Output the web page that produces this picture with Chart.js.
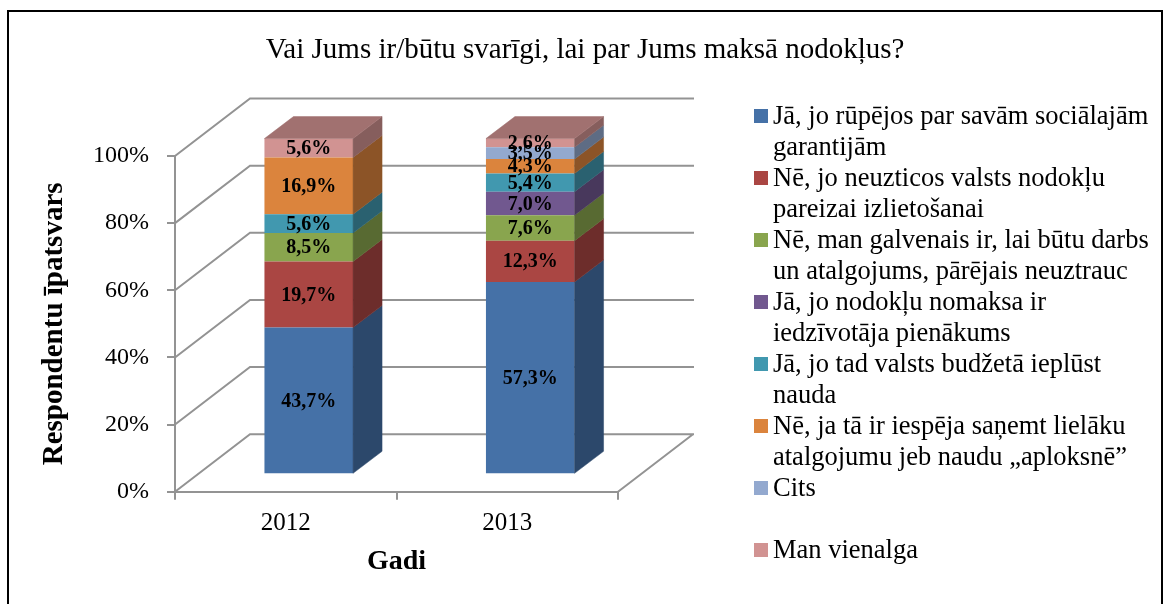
<!DOCTYPE html>
<html lang="lv">
<head>
<meta charset="utf-8">
<title>Vai Jums ir/būtu svarīgi, lai par Jums maksā nodokļus?</title>
<script src="https://cdn.jsdelivr.net/npm/chart.js@4.4.1/dist/chart.umd.min.js"></script>
<style>
    html, body { margin: 0; padding: 0; background: #fff; }
    #wrap { position: relative; width: 1164px; height: 604px; overflow: hidden; font-family: 'Liberation Serif', 'Times New Roman', serif; color: #000; }
    #chart { position: absolute; left: 0; top: 0; }
    #ramis { position: absolute; left: 7px; top: 10px; width: 1156px; height: 640px; border: 2px solid #000; box-sizing: border-box; }
    #virsraksts { position: absolute; left: 8px; width: 1154px; top: 30px; text-align: center; font-size: 29px; line-height: 36px; }
    #legenda { position: absolute; left: 754px; top: 100px; font-size: 26.5px; line-height: 31px; }
    .vieniba { position: relative; padding-left: 19px; height: 62px; white-space: nowrap; }
    .vieniba i { position: absolute; left: 0; top: 9px; width: 14px; height: 14px; }
</style>
</head>
<body>
<div id="wrap">
    <canvas id="chart" width="1164" height="604"></canvas>
    <div id="ramis"></div>
    <div id="virsraksts">Vai Jums ir/būtu svarīgi, lai par Jums maksā nodokļus?</div>
    <div id="legenda"></div>
</div>
<script>
// dati (%)
const gadi = ['2012', '2013'];
const rupejos = [43.7, 57.3];
const neuzticos = [19.7, 12.3];
const darbs = [8.5, 7.6];
const pienakums = [0, 7.0];
const budzets = [5.6, 5.4];
const aploksne = [16.9, 4.3];
const cits = [0, 3.5];
const vienalga = [5.6, 2.6];
const asuVertibas = [0, 20, 40, 60, 80, 100];

const serijas = [
    { teksts: ['Jā, jo rūpējos par savām sociālajām', 'garantijām'], dati: rupejos, krasa: '#4571A7' },
    { teksts: ['Nē, jo neuzticos valsts nodokļu', 'pareizai izlietošanai'], dati: neuzticos, krasa: '#AA4643' },
    { teksts: ['Nē, man galvenais ir, lai būtu darbs', 'un atalgojums, pārējais neuztrauc'], dati: darbs, krasa: '#89A54E' },
    { teksts: ['Jā, jo nodokļu nomaksa ir', 'iedzīvotāja pienākums'], dati: pienakums, krasa: '#71588F' },
    { teksts: ['Jā, jo tad valsts budžetā ieplūst', 'nauda'], dati: budzets, krasa: '#4198AF' },
    { teksts: ['Nē, ja tā ir iespēja saņemt lielāku', 'atalgojumu jeb naudu „aploksnē”'], dati: aploksne, krasa: '#DB843D' },
    { teksts: ['Cits', ''], dati: cits, krasa: '#93A9CF' },
    { teksts: ['Man vienalga', ''], dati: vienalga, krasa: '#D19392' }
];

const SERIF = "'Liberation Serif', 'Times New Roman', serif";
const SIENA = { x: 75, y: -57.5 };   // aizmugures sienas nobīde
const PRIEKSA = { x: 23, y: -17.4 }; // stabu priekšpuses nobīde
const STABS = { x: 29, y: -22 };     // stabu dziļums

function tonis(hex, k) {
    const n = parseInt(hex.slice(1), 16);
    const r = Math.round(((n >> 16) & 255) * k);
    const g = Math.round(((n >> 8) & 255) * k);
    const b = Math.round((n & 255) * k);
    return `rgb(${r}, ${g}, ${b})`;
}

function daudzsturis(ctx, punkti, krasa) {
    ctx.fillStyle = krasa;
    ctx.strokeStyle = krasa;
    ctx.lineWidth = 0.5;
    ctx.beginPath();
    punkti.forEach((p, i) => i ? ctx.lineTo(p[0], p[1]) : ctx.moveTo(p[0], p[1]));
    ctx.closePath();
    ctx.fill();
    ctx.stroke();
}

const telpa = {
    id: 'telpa',
    beforeDatasetsDraw(chart) {
        const { ctx, chartArea: a, scales: { y } } = chart;
        ctx.save();
        ctx.strokeStyle = '#939393';
        ctx.lineWidth = 2;
        ctx.beginPath();
        asuVertibas.forEach(v => {
            const py = y.getPixelForValue(v);
            ctx.moveTo(a.left, py);
            ctx.lineTo(a.left + SIENA.x, py + SIENA.y);
            ctx.lineTo(a.right + SIENA.x + 1, py + SIENA.y);
        });
        ctx.moveTo(a.right, a.bottom);
        ctx.lineTo(a.right + SIENA.x, a.bottom + SIENA.y);
        ctx.stroke();
        ctx.restore();
        // stabu priekšpuses zīmē bibliotēka, tikai nobīdītas
        ctx.save();
        ctx.translate(PRIEKSA.x, PRIEKSA.y);
    },
    afterDatasetsDraw(chart) {
        const ctx = chart.ctx;
        ctx.restore();
        const kopas = chart.data.datasets;

        chart.data.labels.forEach((_, j) => {
            let augsa = -1;
            kopas.forEach((k, i) => { if (k.data[j] > 0) augsa = i; });

            kopas.forEach((k, i) => {
                if (!(k.data[j] > 0)) return;
                const bar = chart.getDatasetMeta(i).data[j];
                const l = bar.x - bar.width / 2 + PRIEKSA.x;
                const r = bar.x + bar.width / 2 + PRIEKSA.x;
                const t = bar.y + PRIEKSA.y;
                const b = bar.base + PRIEKSA.y;
                daudzsturis(ctx, [[r, t], [r + STABS.x, t + STABS.y], [r + STABS.x, b + STABS.y], [r, b]], tonis(serijas[i].krasa, 0.64));
                if (i === augsa) {
                    daudzsturis(ctx, [[l, t], [l + STABS.x, t + STABS.y], [r + STABS.x, t + STABS.y], [r, t]], tonis(serijas[i].krasa, 0.77));
                }
            });

            ctx.save();
            ctx.fillStyle = '#000';
            ctx.font = `bold 20px ${SERIF}`;
            ctx.textAlign = 'center';
            ctx.textBaseline = 'middle';
            kopas.forEach((k, i) => {
                const v = k.data[j];
                if (!(v > 0)) return;
                const bar = chart.getDatasetMeta(i).data[j];
                const yc = (bar.y + bar.base) / 2 + PRIEKSA.y;
                ctx.fillText(v.toFixed(1).replace('.', ',') + '%', bar.x + PRIEKSA.x, yc + 1);
            });
            ctx.restore();
        });
    }
};

// leģenda
document.getElementById('legenda').innerHTML = serijas.map(s => `
    <div class="vieniba"><i style="background:${s.krasa}"></i>${s.teksts[0]}<br>${s.teksts[1] || '&nbsp;'}</div>
`).join('');

new Chart(document.getElementById('chart'), {
    type: 'bar',
    data: {
        labels: gadi,
        datasets: serijas.map(s => ({
            label: s.teksts.join(' ').trim(),
            data: s.dati,
            backgroundColor: s.krasa,
            borderWidth: 0,
            categoryPercentage: 1,
            barPercentage: 0.4,
            clip: false
        }))
    },
    options: {
        responsive: false,
        animation: false,
        layout: { padding: { left: 0, top: 156, right: 546, bottom: 0 } },
        plugins: {
            legend: { display: false },
            title: { display: false },
            tooltip: { enabled: false }
        },
        scales: {
            x: {
                stacked: true,
                afterFit: s => { s.height = 112.3; },
                grid: { drawOnChartArea: false, color: '#939393', lineWidth: 2, tickLength: 8 },
                border: { color: '#939393', width: 2 },
                ticks: { color: '#000', padding: 9, font: { family: SERIF, size: 25 } },
                title: { display: true, text: 'Gadi', color: '#000', padding: { top: 0, bottom: 25 }, font: { family: SERIF, size: 28, weight: 'bold' } }
            },
            y: {
                stacked: true,
                min: 0,
                max: 100,
                afterFit: s => { s.width = 175; },
                afterBuildTicks: s => { s.ticks = asuVertibas.map(v => ({ value: v })); },
                grid: { drawOnChartArea: false, color: '#939393', lineWidth: 2, tickLength: 8 },
                border: { color: '#939393', width: 2 },
                ticks: { color: '#000', padding: 18, font: { family: SERIF, size: 24 }, callback: v => v + '%' },
                title: { display: true, text: 'Respondentu īpatsvars', color: '#000', padding: { top: 37, bottom: 0 }, font: { family: SERIF, size: 29, weight: 'bold' } }
            }
        }
    },
    plugins: [telpa]
});
</script>
</body>
</html>
